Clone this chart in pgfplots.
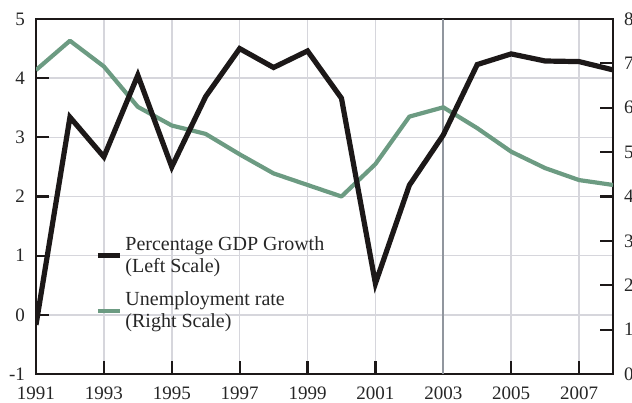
\documentclass[border=0pt]{standalone}
\usepackage{pgfplots}
\pgfplotsset{compat=1.18}
\usepackage{fontspec}
\setmainfont{Liberation Serif}
\definecolor{ugreen}{RGB}{108,155,130}
\definecolor{gridgray}{RGB}{214,214,220}
\definecolor{markgray}{RGB}{145,150,158}
\definecolor{lblack}{RGB}{28,24,24}
\begin{document}
\begin{tikzpicture}
\pgfplotsset{
  common/.style={
    scale only axis, width=288.5pt, height=177.5pt,
    xmin=1991, xmax=2008,
    /pgf/number format/assume math mode=true,
    /pgf/number format/1000 sep={},
    tick label style={font=\fontsize{9.5}{11}\selectfont, text=black!85},
  }
}
% Axis 1: left scale, grid, frame
\begin{axis}[common, name=ax,
  ymin=-1, ymax=5, ytick={-1,0,...,5},
  xtick={1991,1993,...,2007},
  grid=major, major grid style={gridgray, line width=0.8pt},
  axis line style={lblack, line width=1.1pt},
  major tick length=6.5pt, tick align=inside,
  tick style={lblack, line width=1.1pt},
  ytick pos=left, xtick pos=bottom,
  yticklabel style={xshift=-2pt},
  xticklabel style={yshift=-3pt},
]
\addplot[markgray, line width=0.8pt] coordinates {(2003,-1) (2003,5)};
\end{axis}
% Axis 2: right scale, unemployment
\begin{axis}[common,
  ymin=0, ymax=8, ytick={0,1,...,8},
  axis x line=none, axis y line*=right,
  axis line style={lblack, line width=1.1pt},
  major tick length=6.5pt, tick align=inside,
  tick style={lblack, line width=1.1pt},
  yticklabel style={xshift=2pt},
]
\addplot[ugreen, line width=2.1pt, line join=round] coordinates {
(1991,6.85) (1992,7.51) (1993,6.93) (1994,6.02) (1995,5.60) (1996,5.41)
(1997,4.95) (1998,4.52) (1999,4.26) (2000,4.00) (2001,4.73) (2002,5.80)
(2003,6.01) (2004,5.54) (2005,5.01) (2006,4.64) (2007,4.37) (2008,4.26)};
\end{axis}
% Axis 3: left scale, GDP growth + legend
\begin{axis}[common,
  ymin=-1, ymax=5, hide axis,
  legend cell align=left,
  legend style={draw=none, fill=none, inner sep=0pt, row sep=5pt,
    at={(0.102,0.397)}, anchor=north west,
    nodes={inner sep=1.5pt, align=left, font=\fontsize{10}{11}\selectfont, text=black!85}},
  legend image code/.code={\draw[#1] (0pt,0pt) -- (11pt,0pt);},
]
\addplot[lblack, line width=2.6pt, line join=miter] coordinates {
(1991,-0.17) (1992,3.34) (1993,2.67) (1994,4.05) (1995,2.50) (1996,3.69)
(1997,4.50) (1998,4.18) (1999,4.46) (2000,3.66) (2001,0.53) (2002,2.19)
(2003,3.04) (2004,4.23) (2005,4.41) (2006,4.29) (2007,4.28) (2008,4.14)};
\addlegendentry{Percentage GDP Growth\\(Left Scale)}
\addlegendimage{ugreen, line width=2.1pt}
\addlegendentry{Unemployment rate\\(Right Scale)}
\end{axis}
\pgfresetboundingbox
\path[use as bounding box] ([xshift=-18pt,yshift=-14.5pt]ax.south west) rectangle ([xshift=9.5pt,yshift=9.5pt]ax.north east);
\end{tikzpicture}
\end{document}
